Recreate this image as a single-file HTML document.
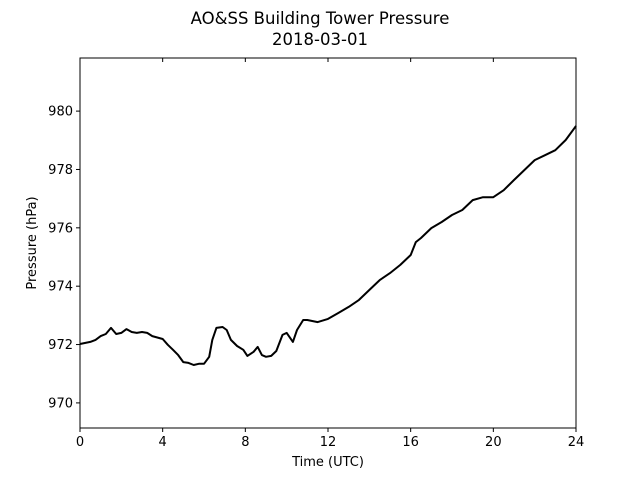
<!DOCTYPE html>
<html><head><meta charset="utf-8"><style>body{margin:0;background:#fff}svg{font-family:"DejaVu Sans","Liberation Sans",sans-serif}</style></head>
<body>
<svg width="640" height="480" xmlns="http://www.w3.org/2000/svg">
<text x="320" y="24" text-anchor="middle" font-size="16.5">AO&amp;SS Building Tower Pressure</text>
<text x="320" y="45" text-anchor="middle" font-size="16.5">2018-03-01</text>
<g id="plot"></g>
<text x="328" y="466" text-anchor="middle" font-size="13">Time (UTC)</text>
<text transform="translate(36,243) rotate(-90)" text-anchor="middle" font-size="13">Pressure (hPa)</text>
</svg>
<script>
const times=[0,0.5,0.75,1,1.25,1.5,1.75,2,2.25,2.5,2.75,3,3.25,3.5,4,4.25,4.5,4.75,5,5.25,5.5,5.75,6,6.25,6.4,6.6,6.9,7.1,7.3,7.6,7.9,8.1,8.4,8.6,8.8,9,9.25,9.5,9.8,10,10.3,10.5,10.8,11,11.5,12,12.5,13,13.5,14,14.5,15,15.5,16,16.25,16.5,17,17.5,18,18.5,19,19.5,20,20.5,21,21.5,22,22.5,23,23.5,24];
const pressure=[972.02,972.09,972.16,972.29,972.36,972.57,972.36,972.40,972.53,972.43,972.40,972.43,972.40,972.29,972.19,971.99,971.82,971.64,971.40,971.37,971.30,971.34,971.34,971.58,972.16,972.57,972.60,972.50,972.16,971.95,971.82,971.61,971.75,971.92,971.64,971.58,971.61,971.78,972.33,972.40,972.09,972.50,972.84,972.84,972.77,972.88,973.08,973.29,973.53,973.87,974.21,974.45,974.73,975.07,975.51,975.65,975.99,976.20,976.44,976.61,976.95,977.05,977.05,977.29,977.64,977.98,978.32,978.49,978.66,979.01,979.49];
const xTicks=[0,4,8,12,16,20,24];
const yTicks=[970,972,974,976,978,980];
const L=80,R=576,T=58,B=428,xMin=0,xMax=24,yMin=969.14,yMax=981.82;
const sx=v=>L+(v-xMin)/(xMax-xMin)*(R-L);
const sy=v=>B-(v-yMin)/(yMax-yMin)*(B-T);
const ns="http://www.w3.org/2000/svg",g=document.getElementById('plot');
function mk(t,a){const e=document.createElementNS(ns,t);for(const k in a)e.setAttribute(k,a[k]);g.appendChild(e);return e;}
let d=times.map((t,i)=>(i?'L':'M')+sx(t).toFixed(1)+','+sy(pressure[i]).toFixed(1)).join('');
const line=mk('path',{d:d,fill:'none',stroke:'#000','stroke-width':2,'stroke-linejoin':'round'});


xTicks.forEach(v=>{const x=sx(v);
 const t1=mk('line',{x1:x,x2:x,y1:B,y2:B+4,stroke:'#000'});
 
 
 const t2=mk('line',{x1:x,x2:x,y1:T,y2:T+4,stroke:'#000'});
 
 
 const tx=mk('text',{x:x,y:B+18,'text-anchor':'middle','font-size':13});tx.textContent=v;
 
 
});
yTicks.forEach(v=>{const y=sy(v);
 const t1=mk('line',{x1:L-4,x2:L,y1:y,y2:y,stroke:'#000'});
 
 
 const tx=mk('text',{x:L-7,y:y+4.5,'text-anchor':'end','font-size':13});tx.textContent=v;
 
 
});
const fr=mk('rect',{x:L,y:T,width:R-L,height:B-T,fill:'none',stroke:'#000','stroke-width':1});


</script>
</body></html>
